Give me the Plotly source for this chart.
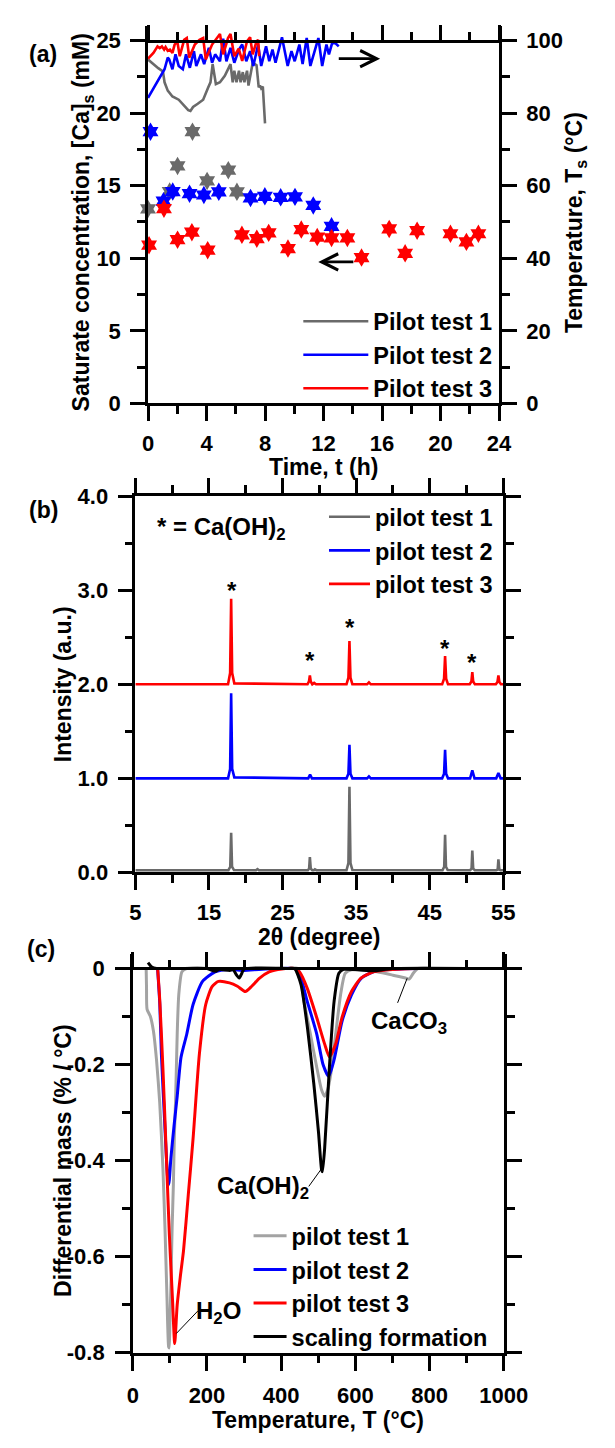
import plotly.graph_objects as go

FONT = "Liberation Sans, Arial, sans-serif"
W, H = 615, 1448

# ---------------- Panel (a) data ----------------
# Saturate concentration [Ca]s (mM) vs time (h)
conc_t_test1 = [0.0, 1.48, 2.02, 3.04, 4.04, 5.49, 6.08]
conc_v_test1 = [13.4, 14.6, 16.36, 18.72, 15.33, 16.07, 14.58]
conc_t_test2 = [0.17, 1.06, 1.69, 2.84, 3.82, 4.84, 7.01, 7.99, 9.07, 10.05, 11.3, 12.55]
conc_v_test2 = [18.72, 13.93, 14.6, 14.45, 14.36, 14.58, 14.16, 14.27, 14.2, 14.23, 13.64, 12.2]
conc_t_test3 = [0.07, 1.09, 2.02, 3.0, 4.08, 6.42, 7.44, 8.25, 9.57, 10.48, 11.57, 12.55,
                13.63, 14.6, 16.49, 17.58, 18.4, 20.68, 21.77, 22.59]
conc_v_test3 = [10.9, 13.42, 11.28, 11.8, 10.56, 11.62, 11.35, 11.75, 10.67, 11.98, 11.46, 11.4,
                11.4, 10.05, 12.02, 10.34, 11.9, 11.69, 11.13, 11.69]

# Temperature Ts (degC) vs time (h)
temp_t_test1 = [0.0, 0.37, 0.7, 1.02, 1.13, 1.35, 1.67, 2.1, 2.47, 2.75, 2.9, 3.08, 3.4, 3.77,
                4.12, 4.27, 4.42, 4.64, 4.92, 5.25, 5.64, 5.79, 5.9, 6.05, 6.22, 6.33, 6.48,
                6.59, 6.77, 6.87, 7.16, 7.31, 7.42, 7.57, 7.65, 7.74, 7.85, 8.0]
temp_v_test1 = [94.8, 93.5, 92.4, 91.5, 88.5, 86.2, 84.6, 83.7, 82.2, 80.8, 80.6, 81.7, 82.6, 83.7,
                87.1, 88.5, 93.5, 88.0, 88.5, 90.3, 93.5, 88.5, 91.7, 88.5, 91.7, 88.5, 91.3,
                88.5, 91.7, 87.6, 93.9, 93.5, 93.2, 87.1, 87.6, 86.8, 87.3, 77.2]
temp_t_test2 = [0.0, 0.37, 0.8, 1.13, 1.35, 1.45, 1.67, 1.88, 2.1, 2.38, 2.6, 2.86, 3.14, 3.3,
                3.62, 3.84, 4.16, 4.38, 4.59, 4.92, 5.14, 5.36, 5.64, 5.9, 6.22, 6.44, 6.72,
                6.98, 7.2, 7.53, 7.74, 8.07, 8.29, 8.51, 8.72, 9.16, 9.55, 9.81, 10.03, 10.35,
                10.57, 10.85, 11.1, 11.37, 11.65, 11.91, 12.2, 12.37, 12.59, 12.8, 13.04]
temp_v_test2 = [84.2, 86.7, 89.8, 92.1, 95.3, 94.8, 92.1, 96.2, 93.0, 92.1, 96.2, 92.5, 97.1, 93.0,
                96.2, 93.5, 98.0, 93.9, 96.2, 94.3, 100.5, 94.3, 98.0, 93.9, 97.5, 98.9, 94.3,
                97.1, 93.0, 98.9, 93.0, 98.4, 94.3, 97.5, 93.9, 100.9, 93.0, 97.1, 94.3, 98.9,
                93.5, 100.7, 93.0, 97.1, 100.7, 93.0, 98.9, 96.2, 99.3, 99.3, 98.4]
temp_t_test3 = [0.0, 0.37, 0.65, 0.8, 0.95, 1.1, 1.2, 1.35, 1.5, 1.67, 1.82, 2.0, 2.17, 2.47,
                2.65, 2.82, 3.2, 3.52, 3.77, 3.95, 4.38, 4.7, 4.92, 5.14, 5.47, 5.64, 5.9,
                6.2, 6.44, 6.77, 6.98, 7.16, 7.42, 7.53, 7.6]
temp_v_test3 = [95.0, 96.6, 98.4, 97.9, 98.4, 97.5, 98.2, 97.2, 97.5, 96.6, 98.9, 99.8, 95.7, 100.2,
                100.7, 95.3, 98.9, 100.2, 100.7, 94.8, 98.9, 100.7, 101.8, 96.2, 100.7, 101.8, 95.7,
                97.8, 94.4, 99.8, 100.9, 96.2, 99.8, 100.2, 95.7]

# ---------------- Panel (b) data (XRD) ----------------
xrd_2t_test3 = [5, 17.6, 17.88, 18.02, 18.16, 18.45, 28.4, 28.6, 28.72, 28.84, 29.05, 29.3, 29.55,
                33.7, 33.96, 34.1, 34.24, 34.5, 36.5, 36.75, 37.0, 46.7, 46.96, 47.1, 47.24, 47.5,
                50.45, 50.68, 50.8, 50.92, 51.15, 54.0, 54.22, 54.35, 54.48, 54.7, 55]
xrd_i_test3 = [2.0, 2.0, 2.12, 2.91, 2.12, 2.01, 2.0, 2.03, 2.095, 2.03, 2.0, 2.015, 2.0,
               2.0, 2.07, 2.46, 2.07, 2.0, 2.0, 2.02, 2.0, 2.0, 2.06, 2.3, 2.06, 2.0,
               2.0, 2.03, 2.13, 2.03, 2.0, 2.0, 2.025, 2.095, 2.025, 2.0, 2.0]
xrd_2t_test2 = [5, 17.6, 17.88, 18.02, 18.16, 18.45, 28.5, 28.75, 29.0, 33.7, 33.96, 34.1, 34.24,
                34.5, 36.5, 36.75, 37.0, 46.7, 46.96, 47.1, 47.24, 47.5, 50.5, 50.8, 51.1,
                54.05, 54.35, 54.65, 55]
xrd_i_test2 = [1.0, 1.0, 1.1, 1.904, 1.1, 1.01, 1.0, 1.04, 1.0, 1.0, 1.05, 1.356, 1.05,
               1.0, 1.0, 1.02, 1.0, 1.0, 1.05, 1.304, 1.05, 1.0, 1.0, 1.085, 1.0,
               1.0, 1.057, 1.0, 1.0]
xrd_2t_test1 = [5, 17.65, 17.9, 18.02, 18.14, 18.4, 21.4, 21.6, 21.8, 28.45, 28.62, 28.72, 28.84,
                29.05, 29.25, 29.4, 29.6, 33.7, 33.96, 34.1, 34.24, 34.5, 46.75, 46.98, 47.1, 47.22,
                47.45, 50.5, 50.7, 50.8, 50.92, 51.15, 54.05, 54.25, 54.35, 54.47, 54.65, 55]
xrd_i_test1 = [0.023, 0.023, 0.06, 0.42, 0.06, 0.025, 0.023, 0.035, 0.023, 0.023, 0.04, 0.162, 0.04,
               0.023, 0.023, 0.032, 0.023, 0.023, 0.1, 0.911, 0.1, 0.025, 0.023, 0.06, 0.40, 0.06,
               0.025, 0.023, 0.04, 0.232, 0.04, 0.023, 0.023, 0.03, 0.138, 0.03, 0.023, 0.023]
peak_star_2t = [18.1, 28.75, 34.2, 47.15, 50.75]
peak_star_i = [3.0, 2.25, 2.6, 2.38, 2.23]

# ---------------- Panel (c) data (DTG) ----------------
dtg_T_test1 = [36, 37, 38.5, 47, 55.6, 64, 72.6, 81.2, 87.2, 92.3, 96.6, 98, 100, 103, 106, 109.4,
               112, 115.4, 119.7, 124, 132.5, 145, 200, 300, 420, 444.6, 461.5, 478.6, 495.7,
               508.5, 517, 525.6, 534, 547, 560, 572.6, 589.5, 620, 658, 701, 735, 745, 756,
               769, 800, 900, 990]
dtg_v_test1 = [0, -0.04, -0.085, -0.099, -0.13, -0.191, -0.28, -0.416, -0.552, -0.689, -0.788,
               -0.79, -0.74, -0.65, -0.54, -0.45, -0.35, -0.273, -0.136, -0.054, -0.007, 0, 0, 0,
               0, 0, -0.068, -0.136, -0.205, -0.252, -0.266, -0.252, -0.218, -0.136, -0.055,
               -0.01, -0.003, -0.003, -0.007, -0.014, -0.02, -0.022, -0.01, 0, 0, 0, 0]
dtg_T_test2 = [66.8, 72.8, 77, 85.5, 94, 96.7, 98.5, 102.6, 111.2, 119.7, 130, 145.4, 162.5, 188,
               222, 260, 300, 340, 400, 430, 444.6, 470, 495.7, 512.8, 528, 542.7, 564, 589.5,
               615, 655, 700, 769, 900, 990]
dtg_v_test2 = [0, -0.075, -0.177, -0.314, -0.437, -0.45, -0.44, -0.396, -0.327, -0.266, -0.185,
               -0.137, -0.075, -0.027, -0.007, -0.002, -0.004, -0.002, 0, 0, -0.002, -0.068,
               -0.136, -0.2, -0.225, -0.19, -0.11, -0.055, -0.021, -0.005, -0.002, 0, 0, 0]
dtg_T_test3 = [67, 72.8, 81.4, 90, 98.5, 107, 113, 119.7, 128.3, 136.8, 149.6, 162.4, 179.5,
               196.6, 213.7, 230.8, 260.7, 282, 303.4, 320.5, 341.9, 367.5, 401.7, 436, 450,
               470, 495.7, 517, 530, 547, 564, 589.5, 615, 649, 700, 760, 900, 990]
dtg_v_test3 = [0, -0.068, -0.212, -0.382, -0.553, -0.689, -0.781, -0.70, -0.64, -0.587, -0.471,
               -0.355, -0.178, -0.075, -0.038, -0.027, -0.03, -0.037, -0.048, -0.037, -0.02,
               -0.007, -0.001, 0, -0.008, -0.041, -0.102, -0.157, -0.184, -0.157, -0.102,
               -0.048, -0.02, -0.007, -0.002, 0, 0, 0]
dtg_T_scale = [41, 51, 64, 200, 222, 232, 262, 270, 280, 287, 294, 300, 420, 436, 453.6, 470.7,
               487.8, 500.6, 509, 511, 517.1, 530, 542.7, 555.5, 568, 650, 670, 700, 990]
dtg_v_scale = [0.012, 0.003, 0, 0, -0.006, -0.002, -0.004, -0.002, -0.014, -0.02, -0.01, -0.001,
               0, 0, -0.034, -0.123, -0.239, -0.341, -0.42, -0.423, -0.375, -0.205, -0.068,
               -0.01, -0.002, -0.005, -0.003, 0, 0]

# tick labels
dtg_ytickvals = [-0.8, -0.6, -0.4, -0.2, 0]
dtg_yticktext = ["-0.8", "-0.6", "-0.4", "-0.2", "0"]

GREY_A = "#6a6a6a"
GREY_C = "#a3a3a3"
BLUE = "#0000ff"
RED = "#ff0000"

fig = go.Figure()

# ---- (a) temperature lines (right axis) ----
for t, v, c, name in [(temp_t_test1, temp_v_test1, GREY_A, "Pilot test 1"),
                      (temp_t_test2, temp_v_test2, BLUE, "Pilot test 2"),
                      (temp_t_test3, temp_v_test3, RED, "Pilot test 3")]:
    fig.add_trace(go.Scatter(x=t, y=v, mode="lines", line=dict(color=c, width=2.6),
                             name=name, xaxis="x", yaxis="y2", legend="legend"))
# ---- (a) concentration stars (left axis) ----
for t, v, c in [(conc_t_test1, conc_v_test1, GREY_A),
                (conc_t_test2, conc_v_test2, BLUE),
                (conc_t_test3, conc_v_test3, RED)]:
    fig.add_trace(go.Scatter(x=t, y=v, mode="markers", showlegend=False, cliponaxis=False,
                             marker=dict(symbol="hexagram", size=14, color=c, line=dict(width=0)),
                             xaxis="x", yaxis="y"))
# invisible anchor for the top axis of (a)
fig.add_trace(go.Scatter(x=[0], y=[0], mode="markers", marker=dict(opacity=0), showlegend=False,
                         hoverinfo="skip", xaxis="x4", yaxis="y"))

# ---- (b) XRD ----
for t, v, c, name in [(xrd_2t_test1, xrd_i_test1, GREY_A, "pilot test 1"),
                      (xrd_2t_test2, xrd_i_test2, BLUE, "pilot test 2"),
                      (xrd_2t_test3, xrd_i_test3, RED, "pilot test 3")]:
    fig.add_trace(go.Scatter(x=t, y=v, mode="lines", line=dict(color=c, width=2.6),
                             name=name, xaxis="x2", yaxis="y3", legend="legend2"))

# ---- (c) DTG ----
for t, v, c, name in [(dtg_T_test1, dtg_v_test1, GREY_C, "pilot test 1"),
                      (dtg_T_test2, dtg_v_test2, BLUE, "pilot test 2"),
                      (dtg_T_test3, dtg_v_test3, RED, "pilot test 3"),
                      (dtg_T_scale, dtg_v_scale, "#000000", "scaling formation")]:
    fig.add_trace(go.Scatter(x=t, y=v, mode="lines",
                             line=dict(color=c, width=3, shape="spline", smoothing=0.6),
                             name=name, xaxis="x3", yaxis="y4", legend="legend3"))
fig.add_trace(go.Scatter(x=[0], y=[0], mode="markers", marker=dict(opacity=0), showlegend=False,
                         hoverinfo="skip", xaxis="x5", yaxis="y4"))

TICK_SIZE = 22
tickfont = dict(family=FONT, size=TICK_SIZE, color="black", weight="bold")


def axis(**kw):
    d = dict(showline=True, linecolor="black", linewidth=2.5, ticks="outside", ticklen=15,
             tickwidth=2.5, tickcolor="black", showgrid=False, zeroline=False, tickfont=tickfont,
             fixedrange=True)
    d.update(kw)
    return d


def minor(dt=None, t0=0, vals=None):
    m = dict(ticks="outside", ticklen=8, tickwidth=2.5, tickcolor="black", showgrid=False)
    if vals is not None:
        m["tickvals"] = vals
    else:
        m["dtick"] = dt
        m["tick0"] = t0
    return m


pa_x = [149.3 / W, 518.3 / W]
pa_y = [1 - 398.3 / H, 1 - 14.3 / H]
pb_x = [136.0 / W, 522.7 / W]
pb_y = [1 - 875.5 / H, 1 - 492.7 / H]
pc_x = [133.3 / W, 523.3 / W]
pc_y = [1 - 1364.3 / H, 1 - 958.6 / H]

LEG_SIZE = 23.5
leg_font = dict(family=FONT, size=LEG_SIZE, color="black", weight="bold")

fig.update_layout(
    width=W, height=H, margin=dict(l=0, r=0, t=0, b=0),
    paper_bgcolor="white", plot_bgcolor="rgba(0,0,0,0)",
    font=dict(family=FONT, size=22, color="black", weight="bold"),
    xaxis=axis(domain=pa_x, anchor="y", range=[0, 24], tick0=0, dtick=4, minor=minor(2),
               ticklabelstandoff=3),
    yaxis=axis(domain=pa_y, anchor="x", range=[0, 26], tickvals=[0, 5, 10, 15, 20, 25],
               minor=minor(vals=[2.5, 7.5, 12.5, 17.5, 22.5]), ticklabelstandoff=5),
    yaxis2=axis(overlaying="y", side="right", anchor="x", range=[0, 104],
                tickvals=[0, 20, 40, 60, 80, 100],
                minor=minor(vals=[10, 30, 50, 70, 90]), ticklabelstandoff=5),
    xaxis4=axis(overlaying="x", side="top", anchor="free", position=1 - 29.05 / H,
                range=[0, 24], tick0=0, dtick=4, minor=minor(2), showticklabels=False),
    xaxis2=axis(domain=pb_x, anchor="y3", range=[5, 55], tick0=5, dtick=10, minor=minor(5, 5),
                mirror="ticks", ticklabelstandoff=3),
    yaxis3=axis(domain=pb_y, anchor="x2", range=[0, 4], dtick=1, tickformat=".1f",
                minor=minor(0.5), mirror="ticks", ticklabelstandoff=5),
    xaxis3=axis(domain=pc_x, anchor="y4", range=[0, 1000], dtick=200, minor=minor(100),
                ticklen=16, ticklabelstandoff=5),
    yaxis4=axis(domain=pc_y, anchor="x3", range=[-0.8, 0.03], tickvals=dtg_ytickvals,
                ticktext=dtg_yticktext, mirror="ticks",
                minor=minor(vals=[-0.7, -0.5, -0.3, -0.1]), ticklabelstandoff=6),
    xaxis5=axis(overlaying="x3", side="top", anchor="free", position=1 - 973.3 / H,
                range=[0, 1000], dtick=200, minor=minor(100), ticklen=16, showticklabels=False),
    legend=dict(x=307.3 / W, y=1 - 292.5 / H, xanchor="left", yanchor="top",
                bgcolor="rgba(0,0,0,0)", font=leg_font, itemwidth=65),
    legend2=dict(x=334.3 / W, y=1 - 491.5 / H, xanchor="left", yanchor="top",
                 bgcolor="rgba(0,0,0,0)", font=leg_font, itemwidth=41),
    legend3=dict(x=255 / W, y=1 - 1223.2 / H, xanchor="left", yanchor="top",
                 bgcolor="rgba(0,0,0,0)", font=leg_font, itemwidth=33),
    showlegend=True,
)

ann_font = dict(family=FONT, size=24, color="black", weight="bold")
title_font = dict(family=FONT, size=23, color="black", weight="bold")


def pap(text, px, py, angle=0, font=title_font, xanchor="center"):
    return dict(text=text, x=px / W, y=1 - py / H, xref="paper", yref="paper", showarrow=False,
                textangle=angle, font=font, xanchor=xanchor, yanchor="middle")


annotations = [
    # panel labels
    pap("(a)", 39.2, 43, font=title_font),
    pap("(b)", 39, 507, font=title_font),
    pap("(c)", 37, 953, font=title_font),
    # axis titles
    pap("Saturate concentration, [Ca]<sub>s</sub> (mM)", 80, 214, angle=-90),
    pap("Temperature, T<sub>s</sub> (°C)", 599, 214, angle=-90),
    pap("Time, t (h)", 333.8, 463.5),
    pap("Intensity (a.u.)", 60, 684, angle=-90),
    pap("2θ (degree)", 329.3, 941),
    pap("Differential mass (% / °C)", 60, 1169, angle=-90),
    pap("Temperature, T (°C)", 328.3, 1433),
    # panel (b) note
    pap("* = Ca(OH)<sub>2</sub>", 157, 526, font=ann_font, xanchor="left"),
]
# panel (c) labels (data coordinates)
for txt, tx, ty in [("CaCO<sub>3</sub>", 743.6, -0.113),
                    ("Ca(OH)<sub>2</sub>", 350.5, -0.455),
                    ("H<sub>2</sub>O", 232.0, -0.716)]:
    annotations.append(dict(text=txt, x=tx, y=ty, xref="x3", yref="y4", showarrow=False,
                            font=ann_font, xanchor="center", yanchor="middle"))
# arrows in (a)
annotations += [
    dict(text="", x=15.87, y=95.0, ax=12.94, ay=95.0, xref="x", yref="y2", axref="x", ayref="y2",
         showarrow=True, arrowhead=5, arrowsize=1.15, arrowwidth=2.8, arrowcolor="black"),
    dict(text="", x=11.64, y=9.75, ax=14.14, ay=9.75, xref="x", yref="y", axref="x", ayref="y",
         showarrow=True, arrowhead=5, arrowsize=1.15, arrowwidth=2.8, arrowcolor="black"),
]
for xs, ys in zip(peak_star_2t, peak_star_i):
    annotations.append(dict(text="*", x=xs, y=ys, xref="x2", yref="y3", showarrow=False,
                            font=ann_font, xanchor="center", yanchor="middle"))
fig.update_layout(annotations=annotations)

# leader lines for panel (c) labels
for x0, y0, x1, y1 in [(713.8, -0.0716, 739.5, -0.0205),
                       (474.4, -0.4537, 506.2, -0.4195),
                       (175.4, -0.713, 117.2, -0.760)]:
    fig.add_shape(type="line", xref="x3", yref="y4", x0=x0, y0=y0, x1=x1, y1=y1,
                  line=dict(color="black", width=1))

# keep the page exactly the size of the figure (no body margin, no scrollbars)
page_fix = ("document.documentElement.style.margin='0';document.body.style.margin='0';"
            "document.documentElement.style.overflow='hidden';document.body.style.overflow='hidden';")

fig.write_html("out.html", post_script=page_fix)
